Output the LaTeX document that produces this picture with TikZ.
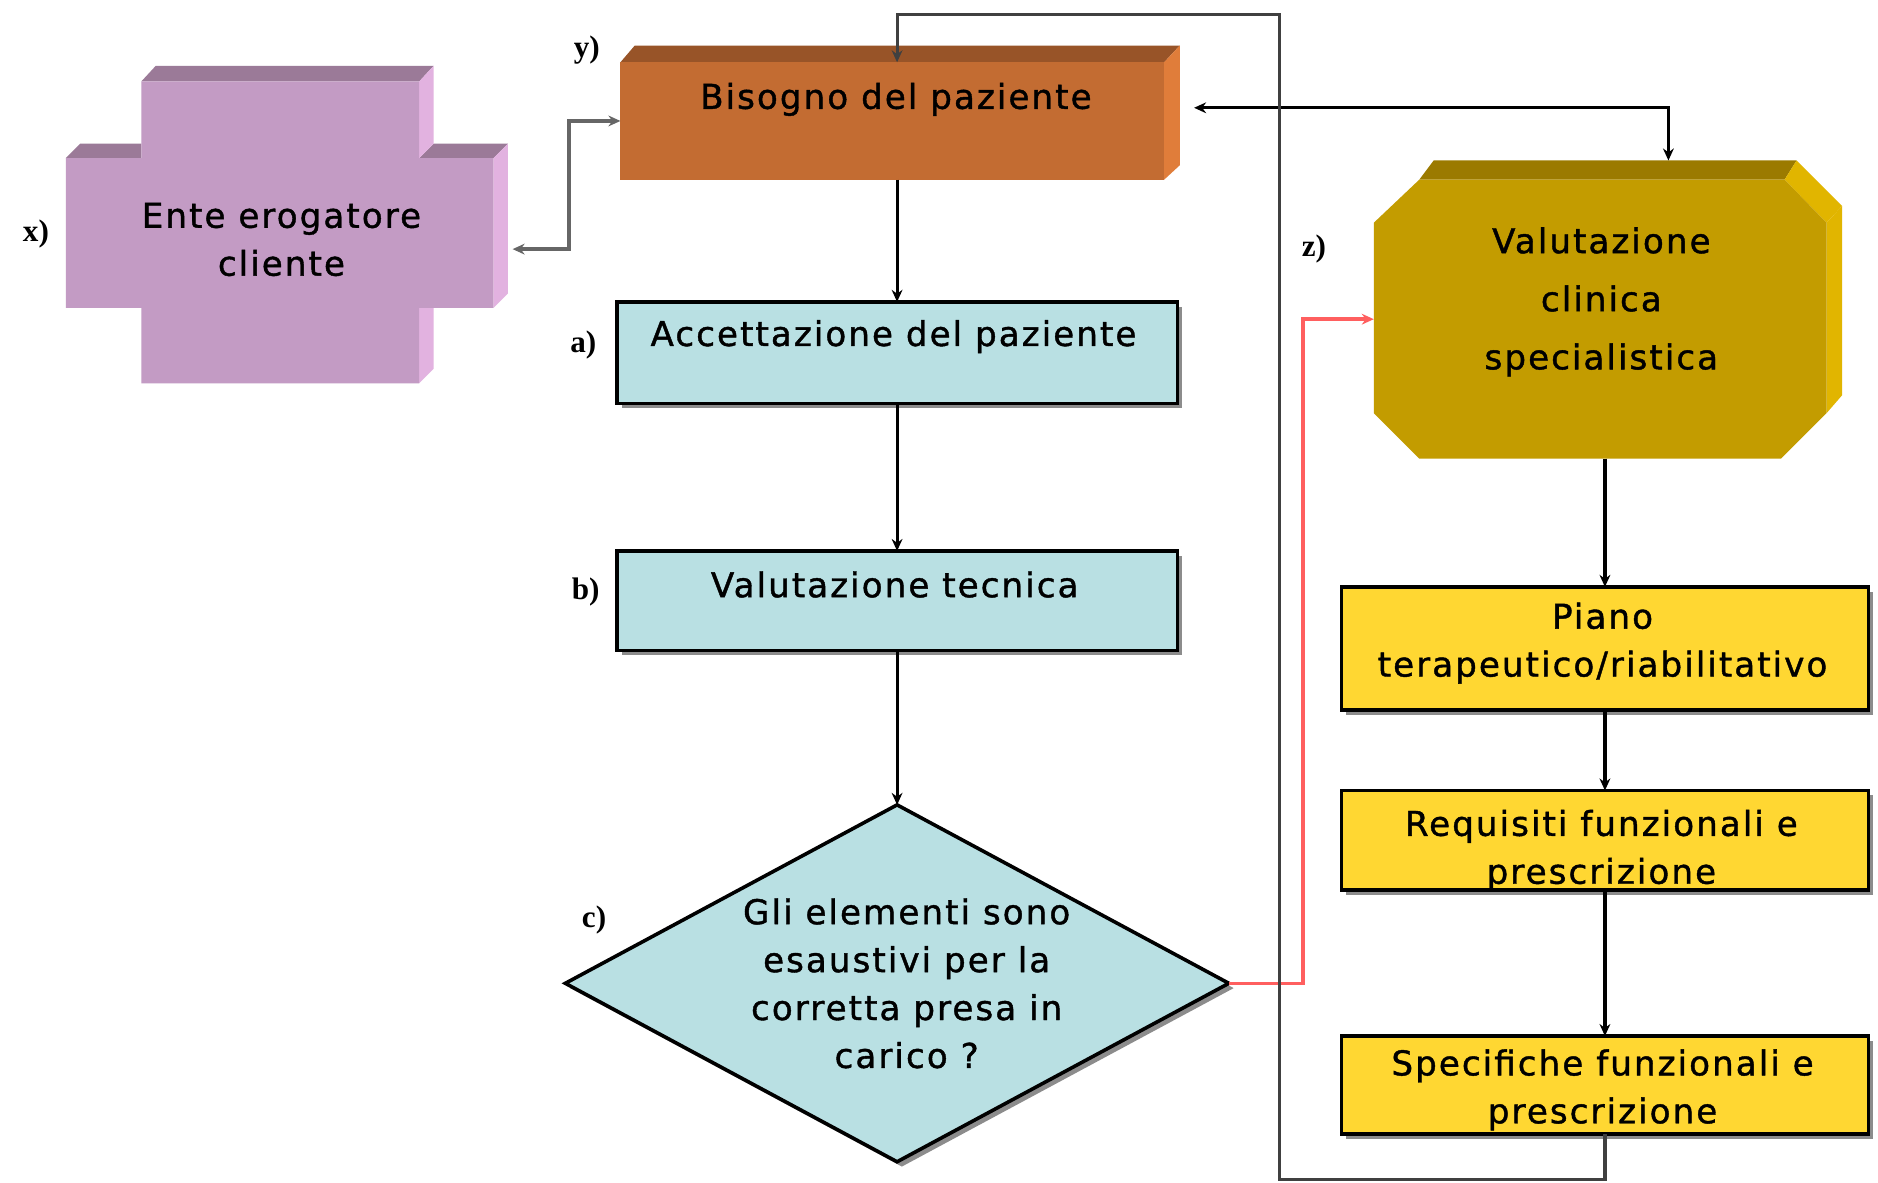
\documentclass[tikz,border=0pt]{standalone}
\usepackage{fontspec}
\setmainfont{DejaVu Sans}
\newfontfamily\boxfont[LetterSpace=6,FakeBold=1.2]{DejaVu Sans}
\newfontfamily\lblfont{Liberation Serif}
\usetikzlibrary{arrows.meta,shapes.geometric,shadows}
\definecolor{boxblue}{RGB}{185,224,227}
\definecolor{boxyellow}{RGB}{255,215,50}
\definecolor{orfront}{RGB}{195,108,50}
\definecolor{ortop}{RGB}{152,84,40}
\definecolor{orside}{RGB}{224,125,58}
\definecolor{crfront}{RGB}{195,155,196}
\definecolor{crtop}{RGB}{155,122,152}
\definecolor{crside}{RGB}{226,178,224}
\definecolor{ocfront}{RGB}{195,156,0}
\definecolor{octop}{RGB}{155,122,0}
\definecolor{ocside}{RGB}{225,181,0}
\definecolor{redline}{RGB}{255,95,95}
\tikzset{
  tip/.style={-{Stealth[length=10pt,width=9pt]}},
  conn/.style={line width=2.6pt, draw=black, tip},
  shade/.style={drop shadow={shadow xshift=4pt, shadow yshift=-4pt, fill=black!45, opacity=1}},
  bluebox/.style={draw=black, line width=3pt, fill=boxblue, inner sep=0, outer sep=0, shade},
  yellowbox/.style={draw=black, line width=3pt, fill=boxyellow, inner sep=0, outer sep=0, shade, minimum width=440},
  txt/.style={font=\boxfont\fontsize{28.5}{40}\selectfont, align=center, inner sep=0},
  lbl/.style={font=\lblfont\bfseries\fontsize{26}{28}\selectfont, inner sep=0}
}
\begin{document}
\begin{tikzpicture}[x=1pt,y=-1pt]
\useasboundingbox (0,0) rectangle (1568,987);
\fill[white] (0,0) rectangle (1568,987);

% ---- cross (x)
\fill[crtop] (118,68) -- (130,55) -- (362,55) -- (350,68) -- cycle;
\fill[crtop] (55,132) -- (67,120) -- (118,120) -- (118,132) -- cycle;
\fill[crtop] (350,132) -- (362,120) -- (424,120) -- (412,132) -- cycle;
\fill[crside] (350,68) -- (362,55) -- (362,120) -- (350,132) -- cycle;
\fill[crside] (412,132) -- (424,120) -- (424,245) -- (412,257) -- cycle;
\fill[crside] (350,257) -- (362,257) -- (362,308) -- (350,320) -- cycle;
\fill[crfront] (118,68) -- (350,68) -- (350,132) -- (412,132) -- (412,257) -- (350,257)
   -- (350,320) -- (118,320) -- (118,257) -- (55,257) -- (55,132) -- (118,132) -- cycle;
\node[txt] (ente) at (235,200) {Ente erogatore\\cliente};
\coordinate (crossR) at (428,208);

% ---- Bisogno (y)
\fill[ortop] (518,52) -- (530,38) -- (985,38) -- (972,52) -- cycle;
\fill[orside] (972,52) -- (985,38) -- (985,138) -- (972,150) -- cycle;
\node[fill=orfront, inner sep=0, outer sep=0, minimum width=454, minimum height=98] (bis) at (745,101) {};
\node[txt] (bist) at (748,83) {Bisogno del paziente};
\coordinate (bisR) at (997,90);

% ---- blue boxes
\node[bluebox, minimum width=468, minimum height=85] (acc) at (749,294.5) {};
\node[txt] (acct) at (746,281) {Accettazione del paziente};
\node[bluebox, minimum width=468, minimum height=83] (tec) at (749,501.5) {};
\node[txt] (tect) at (747,488) {Valutazione tecnica};

% ---- diamond
\node[diamond, draw=black, line width=3pt, fill=boxblue, inner sep=0, outer sep=0,
      minimum width=554, minimum height=298, shade] (dia) at (749,821) {};
\node[txt] (diat) at (757,821) {Gli elementi sono\\esaustivi per la\\corretta presa in\\carico ?};

% ---- octagon (z)
\node[inner sep=0, outer sep=0, minimum width=378, minimum height=233] (oct) at (1336,266.5) {};
\fill[octop] (1185,150) -- (1197,134) -- (1500,134) -- (1490,150) -- cycle;
\fill[ocside] (1490,150) -- (1500,134) -- (1538,172) -- (1525,186) -- cycle;
\fill[ocside] (1525,186) -- (1538,172) -- (1538,330) -- (1525,345) -- cycle;
\fill[ocfront] (1185,150) -- (1490,150) -- (1525,186) -- (1525,345) -- (1487,383)
   -- (1185,383) -- (1147,345) -- (1147,186) -- cycle;
\node[txt, font=\boxfont\fontsize{28.5}{48.5}\selectfont] (octt) at (1337,252) {Valutazione\\clinica\\specialistica};
\coordinate (octtop) at (1393,134);

% ---- yellow boxes
\node[yellowbox, minimum height=103] (piano) at (1340,541.5) {};
\node[txt] (pianot) at (1338,537) {Piano\\terapeutico/riabilitativo};
\node[yellowbox, minimum height=83] (req) at (1340,701.5) {};
\node[txt] (reqt) at (1337,710) {Requisiti funzionali e\\prescrizione};
\node[yellowbox, minimum height=82] (spec) at (1340,906) {};
\node[txt] (spect) at (1338,910) {Specifiche funzionali e\\prescrizione};

% ---- labels
\node[lbl] (lx) at (30,195) {x)};
\node[lbl] (ly) at (490,42) {y)};
\node[lbl] (la) at (487,288) {a)};
\node[lbl] (lb) at (489,494) {b)};
\node[lbl] (lc) at (496,768) {c)};
\node[lbl] (lz) at (1097,208) {z)};

% ---- connectors
\draw[line width=3.5pt, draw=black!60, {Stealth[length=10pt,width=9pt]}-{Stealth[length=10pt,width=9pt]}]
   (crossR) -- (475,208) |- (bis.west);
\draw[conn] (acc.north |- bis.south) -- (acc.north);
\draw[conn] (acc.south) -- (tec.north);
\draw[conn] (tec.south) -- (dia.north);
\draw[line width=3pt, draw=redline, -{Stealth[length=10pt,width=9pt]}, color=redline]
   (dia.east) -- (1088,821) |- (oct.west);
\draw[line width=2.6pt, draw=black, {Stealth[length=10pt,width=9pt]}-{Stealth[length=10pt,width=9pt]}]
   (bisR) -- (1393,90) -- (octtop);
\draw[conn] (piano.north |- oct.south) -- (piano.north);
\draw[conn] (piano.south) -- (req.north);
\draw[conn] (req.south) -- (spec.north);
\draw[conn, draw=black!75] (spec.south) |- (1068,985) -- (1068,12) -| (acc.north |- bis.north);
\end{tikzpicture}
\end{document}
